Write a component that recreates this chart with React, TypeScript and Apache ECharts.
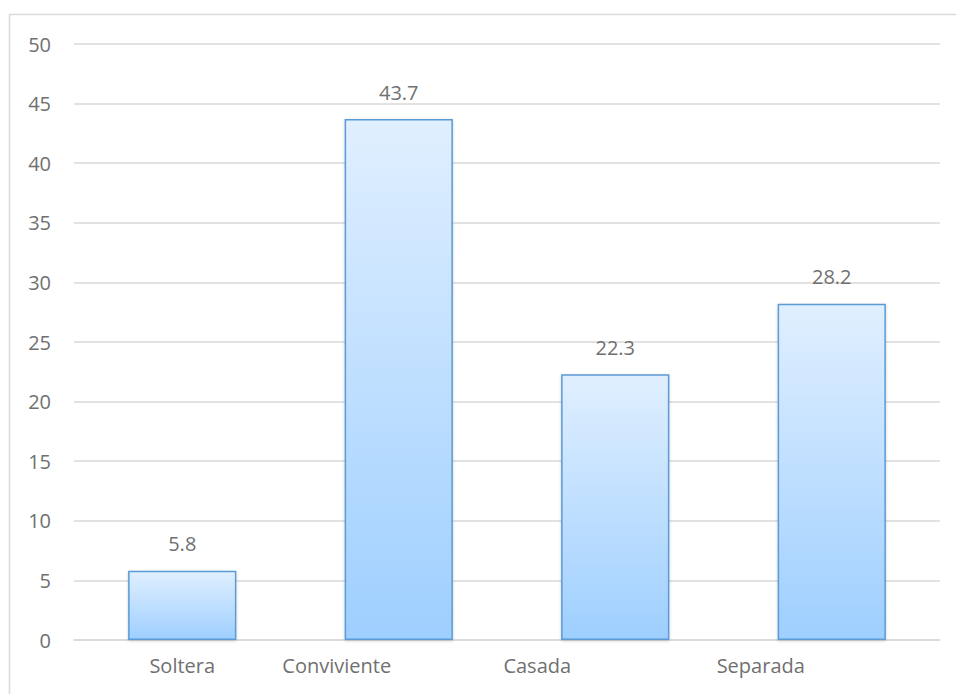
import React, { useEffect, useRef } from "react";
import * as echarts from "echarts";

const categories = ["Soltera", "Conviviente", "Casada", "Separada"];
const values = [5.8, 43.7, 22.3, 28.2];
const yTicks = [0, 5, 10, 15, 20, 25, 30, 35, 40, 45, 50];
// horizontal offset (px) of each category label in the reference
const labelShift = [0, -62, -78, -71];

export default function App() {
  const ref = useRef<HTMLDivElement>(null);
  useEffect(() => {
    if (!ref.current) return;
    const chart = echarts.init(ref.current, undefined, { renderer: "svg" });
    const font = "'Open Sans', sans-serif";
    const fs = 20;
    const txt = "#707070";
    const rich: Record<string, any> = {};
    categories.forEach((c, i) => {
      const s = labelShift[i];
      rich["l" + i] = {
        fontFamily: font,
        fontSize: fs,
        color: txt,
        padding: s < 0 ? [0, -2 * s, 0, 0] : [0, 0, 0, 2 * s],
      };
    });
    chart.setOption({
      animation: false,
      graphic: [
        {
          type: "rect",
          shape: { x: 9.5, y: 14.5, width: 1000, height: 1000 },
          style: { fill: "none", stroke: "#D9D9D9", lineWidth: 1.5 },
          silent: true,
        },
      ],
      grid: { left: 74, right: 16, top: 44, bottom: 54, outerBoundsMode: "none" },
      xAxis: {
        type: "category",
        data: categories,
        axisTick: { show: false },
        axisLine: { lineStyle: { color: "#D9D9D9", width: 1.5 } },
        axisLabel: {
          margin: 15,
          interval: 0,
          formatter: (v: string) => `{l${categories.indexOf(v)}|${v}}`,
          rich,
        },
      },
      yAxis: {
        type: "value",
        min: yTicks[0],
        max: yTicks[yTicks.length - 1],
        interval: 5,
        axisLine: { show: false },
        axisTick: { show: false },
        splitLine: { lineStyle: { color: "#D9D9D9", width: 1.5 } },
        axisLabel: {
          margin: 23,
          fontFamily: font,
          fontSize: fs,
          color: txt,
        },
      },
      series: [
        {
          type: "bar",
          data: values,
          barWidth: "50%",
          itemStyle: {
            color: new echarts.graphic.LinearGradient(0, 0, 0, 1, [
              { offset: 0, color: "#E0EFFF" },
              { offset: 1, color: "#9ECFFF" },
            ]),
            borderColor: "#5B9BD5",
            borderWidth: 1.5,
            shadowColor: "rgba(0,0,0,0.18)",
            shadowBlur: 3,
            shadowOffsetY: 1,
          },
          label: {
            show: true,
            position: "top",
            distance: 17,
            fontFamily: font,
            fontSize: fs,
            color: txt,
          },
        },
      ],
    });
    return () => chart.dispose();
  }, []);
  return (
    <div
      ref={ref}
      style={{ position: "absolute", left: 0, top: 0, width: 956, height: 694, background: "#fff" }}
    />
  );
}
